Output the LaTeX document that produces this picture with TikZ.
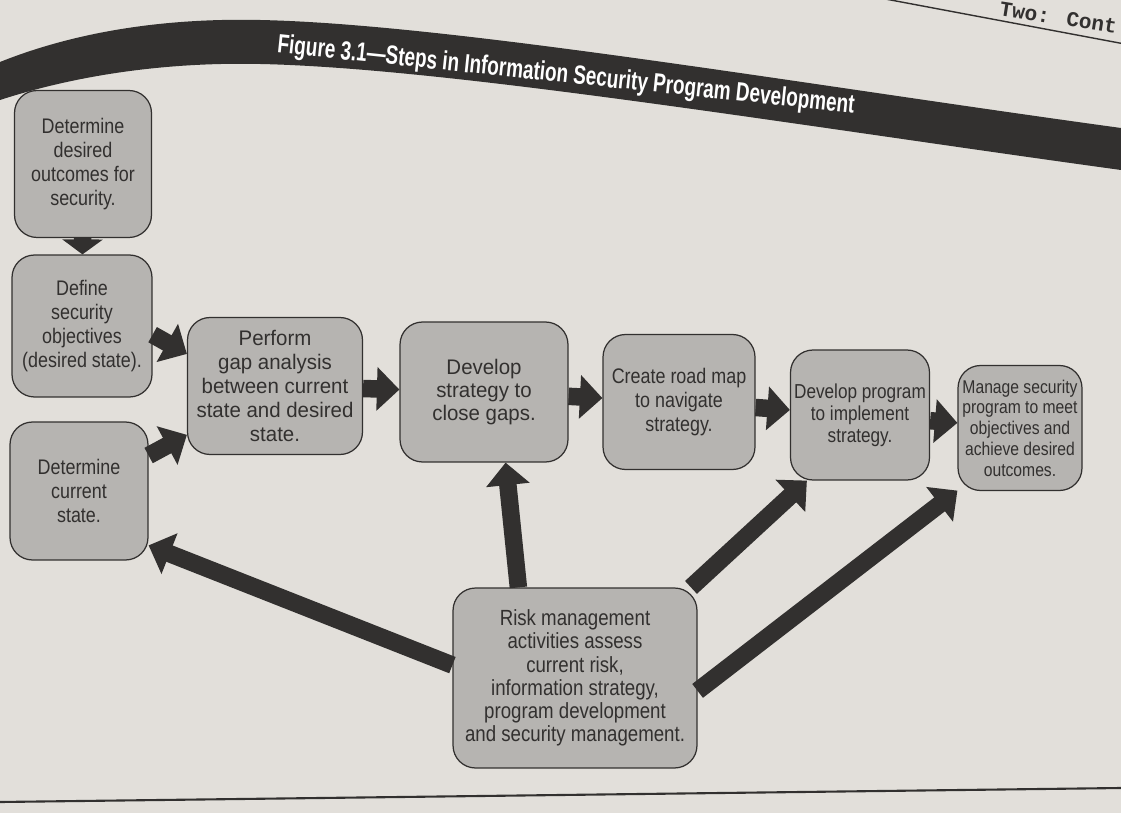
\documentclass[tikz,border=0pt]{standalone}
\usepackage{fontspec}
\setmainfont{Liberation Sans}[FakeStretch=0.85]
\newfontfamily\widefont{Liberation Sans}[FakeStretch=0.97]
\newfontfamily\titlefont{Liberation Sans}[FakeStretch=0.72]
\newfontfamily\headfont{Liberation Mono}
\usepackage{tikz}
\usetikzlibrary{positioning, arrows.meta}
\definecolor{paper}{RGB}{226,223,218}
\definecolor{boxgray}{RGB}{182,180,177}
\definecolor{ink}{RGB}{50,48,47}

\begin{document}
\begin{tikzpicture}[x=0.02cm, y=-0.02cm,
    stepbox/.style={draw=ink, line width=0.7pt, fill=boxgray, rounded corners=4.5mm,
      align=center, text=ink, inner sep=1pt, font=\fontsize{12}{13.6}\selectfont},
    bigarrow/.style={draw=ink, line width=3.5mm, -{Triangle[width=8.5mm,length=4.5mm]}}]
  \useasboundingbox (0,0) rectangle (1121,813);
  \clip (0,0) rectangle (1121,813);
  \fill[paper] (0,0) rectangle (1121,813);

  % page header and title band
  \draw[ink, line width=0.8pt] (880,-2) -- (1130,45);
  \node[rotate=-9, anchor=east, inner sep=0pt, text=ink, font=\headfont\bfseries\fontsize{12}{14}\selectfont] (head) at (1117,27) {Two: Cont};
  \fill[ink] (0,62) .. controls (80,30) and (170,18) .. (260,20)
    .. controls (450,24) and (800,84) .. (1121,128) -- (1121,170)
    .. controls (800,126) and (450,68) .. (260,64)
    .. controls (170,62) and (80,74) .. (0,100) -- cycle;
  \node[rotate=-6, text=white, font=\titlefont\bfseries\fontsize{15}{17}\selectfont] (title) at (566,76)
    {Figure 3.1—Steps in Information Security Program Development};
  \draw[ink, line width=1.2pt] (0,802) -- (1121,788);

  % steps
  \node[stepbox, minimum width=2.74cm, minimum height=2.94cm] (outcomes) at (83,164)
    {Determine\\desired\\outcomes for\\security.};
  \node[stepbox, minimum width=2.8cm, minimum height=2.84cm] (objectives) at (82,326)
    {Define\\security\\objectives\\(desired state).};
  \node[stepbox, minimum width=2.76cm, minimum height=2.76cm] (current) at (79,491)
    {Determine\\current\\state.};
  \node[stepbox, font=\widefont\fontsize{12}{13.6}\selectfont, minimum width=3.5cm, minimum height=2.74cm] (gap) at (275,386)
    {Perform\\gap analysis\\between current\\state and desired\\state.};
  \node[stepbox, font=\widefont\fontsize{12}{13.2}\selectfont, minimum width=3.36cm, minimum height=2.8cm] (strategy) at (484,392)
    {Develop\\strategy to\\close gaps.};
  \node[stepbox, minimum width=3.04cm, minimum height=2.7cm] (roadmap) at (679,402)
    {Create road map\\to navigate\\strategy.};
  \node[stepbox, font=\fontsize{11.5}{12.6}\selectfont, minimum width=2.78cm, minimum height=2.6cm] (program) at (860,415)
    {Develop program\\to implement\\strategy.};
  \node[stepbox, font=\fontsize{10.5}{11.8}\selectfont, minimum width=2.48cm, minimum height=2.5cm] (manage) at (1020,428)
    {Manage security\\program to meet\\objectives and\\achieve desired\\outcomes.};
  \node[stepbox, font=\fontsize{12.5}{13.2}\selectfont, minimum width=4.88cm, minimum height=3.6cm] (risk) at (575,678)
    {Risk management\\activities assess\\current risk,\\information strategy,\\program development\\and security management.};

  % connectors
  \draw[bigarrow, -{Triangle[width=8mm,length=3mm]}] (outcomes) -- (objectives);
  \draw[bigarrow] (objectives.-7) -- (gap.160);
  \draw[bigarrow] (current.27) -- (gap.209);
  \draw[bigarrow] (gap) -- (strategy);
  \draw[bigarrow] (strategy) -- (roadmap);
  \draw[bigarrow] (roadmap) -- (program);
  \draw[bigarrow] (program) -- (manage);
  \draw[bigarrow] (risk.174) -- (current.-38);
  \draw[bigarrow] (risk.122) -- (strategy.-73);
  \draw[bigarrow] (risk.38) -- (program.231);
  \draw[bigarrow] (risk.-6) -- (manage.225);
\end{tikzpicture}
\end{document}
